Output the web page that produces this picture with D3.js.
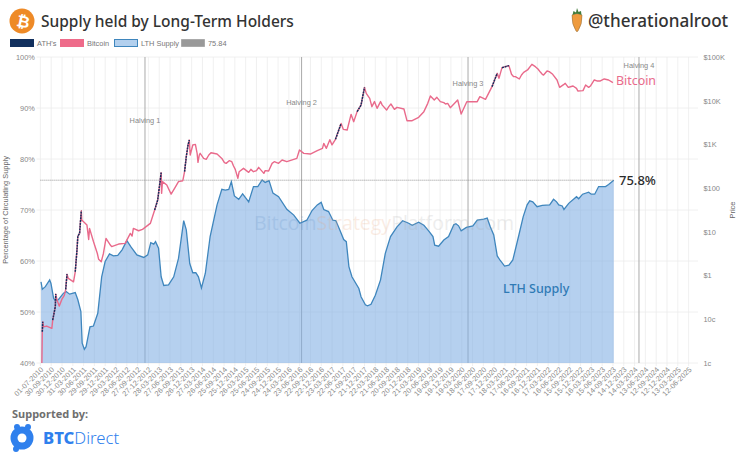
<!DOCTYPE html>
<html lang="en">

<head>
  <meta charset="UTF-8">
  <title>Supply held by Long-Term Holders</title>
  <script src="https://d3js.org/d3.v7.min.js"></script>
  <style>
    * {
      padding: 0;
      margin: 0;
      box-sizing: border-box;
    }

    body {
      background: #fff;
      overflow: hidden;
    }

    svg {
      display: block;
    }

    .axis text {
      font-family: "Liberation Sans", sans-serif;
      font-size: 7.4px;
      fill: #888;
    }

    .axis path,
    .axis line {
      stroke: none;
    }
  </style>
</head>

<body>
  <div id="container"></div>
  <script>
    // dates are decimal years
    const lthYears = [2010.51, 2010.54, 2010.61, 2010.71, 2010.74, 2010.80, 2010.84, 2010.91, 2011.03, 2011.09, 2011.17, 2011.30, 2011.36, 2011.43, 2011.46, 2011.51, 2011.55, 2011.64, 2011.72, 2011.82, 2011.91, 2011.99, 2012.09, 2012.18, 2012.28, 2012.38, 2012.49, 2012.58, 2012.72, 2012.88, 2012.97, 2013.04, 2013.11, 2013.15, 2013.22, 2013.28, 2013.34, 2013.45, 2013.57, 2013.68, 2013.80, 2013.86, 2013.94, 2014.01, 2014.08, 2014.14, 2014.21, 2014.30, 2014.41, 2014.57, 2014.68, 2014.76, 2014.84, 2014.90, 2014.97, 2015.07, 2015.16, 2015.30, 2015.41, 2015.51, 2015.61, 2015.68, 2015.77, 2015.86, 2015.99, 2016.18, 2016.34, 2016.48, 2016.64, 2016.76, 2016.88, 2016.97, 2017.03, 2017.14, 2017.24, 2017.31, 2017.41, 2017.49, 2017.55, 2017.61, 2017.68, 2017.84, 2017.89, 2017.99, 2018.04, 2018.12, 2018.22, 2018.34, 2018.45, 2018.57, 2018.72, 2018.85, 2018.99, 2019.07, 2019.22, 2019.34, 2019.45, 2019.55, 2019.59, 2019.68, 2019.80, 2019.91, 2020.03, 2020.08, 2020.14, 2020.20, 2020.32, 2020.47, 2020.57, 2020.72, 2020.80, 2020.87, 2020.95, 2021.03, 2021.10, 2021.20, 2021.30, 2021.39, 2021.53, 2021.63, 2021.72, 2021.78, 2021.85, 2021.95, 2022.07, 2022.24, 2022.33, 2022.40, 2022.45, 2022.53, 2022.57, 2022.68, 2022.86, 2022.91, 2023.00, 2023.14, 2023.20, 2023.28, 2023.37, 2023.53, 2023.60, 2023.72]
    const lthPercent = [55.9, 54.45, 54.97, 56.28, 55.6, 52.7, 52.2, 52.4, 53.7, 54.0, 53.5, 53.8, 52.4, 50.1, 43.9, 42.7, 43.2, 47.1, 47.25, 49.75, 56.9, 59.9, 61.4, 61.0, 61.1, 62.2, 64.0, 62.8, 61.2, 60.7, 61.2, 63.6, 63.3, 63.8, 62.5, 56.9, 55.2, 55.3, 56.9, 60.5, 67.9, 66.1, 59.5, 57.7, 57.7, 56.9, 54.7, 57.6, 64.8, 71.0, 74.05, 73.9, 74.05, 75.56, 72.75, 72.1, 73.15, 71.6, 74.6, 74.6, 75.9, 75.4, 75.75, 73.3, 72.6, 70.15, 69.0, 67.4, 68.0, 69.9, 71.0, 71.5, 70.1, 69.7, 68.0, 67.9, 65.9, 64.2, 63.8, 58.9, 56.9, 54.6, 53.0, 51.4, 51.2, 51.5, 53.3, 56.3, 61.5, 64.8, 66.7, 67.9, 67.4, 67.0, 67.6, 67.0, 65.9, 64.8, 63.1, 62.9, 64.1, 64.8, 67.1, 67.3, 66.9, 65.9, 66.6, 66.9, 68.0, 68.2, 68.4, 66.7, 65.1, 61.0, 60.1, 59.0, 59.2, 60.2, 65.1, 68.7, 71.0, 71.8, 71.6, 70.65, 70.9, 71.0, 72.1, 71.6, 71.0, 70.8, 70.1, 71.3, 72.6, 72.2, 73.1, 73.5, 73.1, 73.1, 74.6, 74.6, 75.0, 75.84]

    const priceYears = [
      2010.53, 2010.54, 2010.55, 2010.57, 2010.64, 2010.76, 2010.78, 2010.81, 2010.84, 2010.85, 2010.88, 2010.93, 2010.99,
      2011.05, 2011.08, 2011.11, 2011.14, 2011.26, 2011.30, 2011.34, 2011.36, 2011.40, 2011.44, 2011.45, 2011.57, 2011.61, 2011.63, 2011.72, 2011.81, 2011.84, 2011.90, 2011.95,
      2012.01, 2012.11, 2012.14, 2012.30, 2012.45, 2012.57, 2012.61, 2012.64, 2012.76, 2012.85,
      2013.03, 2013.13, 2013.20, 2013.22, 2013.28, 2013.29, 2013.31, 2013.41, 2013.51, 2013.61, 2013.68, 2013.78, 2013.82, 2013.86, 2013.90, 2013.93, 2013.95,
      2014.01, 2014.07, 2014.11, 2014.13, 2014.16, 2014.18, 2014.26, 2014.32, 2014.38, 2014.43, 2014.57, 2014.68, 2014.74, 2014.78, 2014.85, 2014.91, 2014.95, 2014.99,
      2015.05, 2015.08, 2015.18, 2015.30, 2015.35, 2015.41, 2015.48, 2015.53, 2015.65, 2015.68, 2015.76, 2015.84, 2015.89, 2015.99,
      2016.07, 2016.18, 2016.41, 2016.47, 2016.57, 2016.72, 2016.88,
      2017.00, 2017.03, 2017.09, 2017.17, 2017.22, 2017.30, 2017.43, 2017.48, 2017.57, 2017.66, 2017.72, 2017.80, 2017.89, 2017.97,
      2018.01, 2018.09, 2018.14, 2018.20, 2018.26, 2018.34, 2018.38, 2018.48, 2018.53, 2018.58, 2018.66, 2018.72, 2018.88, 2018.95,
      2019.07, 2019.22, 2019.34, 2019.43, 2019.49, 2019.58, 2019.64, 2019.72, 2019.80, 2019.84, 2019.89, 2019.95,
      2020.12, 2020.20, 2020.33, 2020.57, 2020.63, 2020.76, 2020.91, 2020.99,
      2021.03, 2021.07, 2021.14, 2021.22, 2021.30, 2021.36, 2021.41, 2021.45, 2021.54, 2021.59, 2021.64, 2021.73, 2021.83, 2021.91, 2021.97,
      2022.03, 2022.07, 2022.10, 2022.18, 2022.23, 2022.31, 2022.41, 2022.47, 2022.57, 2022.60, 2022.67, 2022.72, 2022.78, 2022.86, 2022.89,
      2023.01, 2023.07, 2023.14, 2023.18, 2023.27, 2023.33, 2023.41, 2023.50, 2023.60, 2023.70
    ]
    const priceUsd = [
      0.01, 0.052, 0.088, 0.067, 0.07, 0.062, 0.096, 0.136, 0.194, 0.378, 0.275, 0.20, 0.285,
      0.358, 0.483, 1.08, 0.86, 0.72, 1.22, 3.84, 8.0, 9.2, 30.5, 18.6, 14.3, 6.7, 12, 6, 3.2, 2.35, 2.07, 3.2,
      7.1, 5.0, 4.6, 5.26, 5.45, 9.2, 8.0, 12, 10.6, 11.4,
      15.6, 31.5, 53.5, 76, 226, 76, 141, 118, 73, 107, 141, 148, 238, 525, 970, 1259, 573,
      970, 1000, 625, 389, 573, 625, 479, 457, 573, 647, 603, 479, 382, 369, 425, 403, 321, 269,
      168, 238, 284, 230, 269, 238, 251, 299, 218, 251, 247, 369, 403, 369,
      440, 403, 479, 745, 625, 603, 719,
      813, 1059, 813, 1280, 977, 1306, 3020, 2213, 2138, 4875, 3311, 5623, 7943, 20230,
      14750, 11320, 7310, 9550, 6700, 9550, 7940, 6120, 7310, 8410, 6350, 7060, 6460, 3490,
      3490, 4170, 5620, 8710, 12820, 10370, 11940, 9550, 9020, 8410, 8710, 6930,
      10370, 4970, 9500, 9500, 12390, 10720, 21000, 33650,
      42360, 32500, 57000, 60100, 63400, 40200, 35500, 35500, 31400, 38700, 44600, 50500, 67900, 60100, 53200,
      44600, 40200, 38700, 47900, 46200, 40200, 29800, 20200, 23700, 25000, 20200, 20900, 21700, 19200, 16700,
      17000, 22900, 20200, 21700, 29800, 28300, 28300, 31400, 29800, 25900
    ]

    const tickDates = ["2010-07-01", "2010-09-30", "2010-12-30", "2011-03-31", "2011-06-30", "2011-09-29", "2011-12-29", "2012-03-29", "2012-06-28", "2012-09-27", "2012-12-27", "2013-03-28", "2013-06-27", "2013-09-26", "2013-12-26", "2014-03-27", "2014-06-26", "2014-09-25", "2014-12-25", "2015-03-26", "2015-06-25", "2015-09-24", "2015-12-24", "2016-03-24", "2016-06-23", "2016-09-22", "2016-12-22", "2017-03-23", "2017-06-22", "2017-09-21", "2017-12-21", "2018-03-22", "2018-06-21", "2018-09-20", "2018-12-20", "2019-03-21", "2019-06-20", "2019-09-19", "2019-12-19", "2020-03-19", "2020-06-18", "2020-09-17", "2020-12-17", "2021-03-18", "2021-06-17", "2021-09-16", "2021-12-16", "2022-03-17", "2022-06-16", "2022-09-15", "2022-12-15", "2023-03-16", "2023-06-15", "2023-09-14", "2023-12-14", "2024-03-14", "2024-06-13", "2024-09-12", "2024-12-12", "2025-03-13", "2025-06-12"]
    const percentTicks = [40, 50, 60, 70, 80, 90, 100]
    const priceTicks = [0.01, 0.1, 1, 10, 100, 1000, 10000, 100000]
    const priceTickLabels = ["1c", "10c", "$1", "$10", "$100", "$1K", "$10K", "$100K"]

    const halvingDates = ["2012-11-28", "2016-07-09", "2020-05-11", "2024-04-20"]
    const halvingNames = ["Halving 1", "Halving 2", "Halving 3", "Halving 4"]
    const halvingLabelPct = [87.1, 90.6, 94.4, 97.8]
    const currentLth = 75.84

    const legendNames = ["ATH's", "Bitcoin", "LTH Supply", "75.84"]
    const legendFill = ["#12305e", "#ee6b8a", "#b3d0ee", "#999"]
    const legendStroke = ["#12305e", "#ee6b8a", "#3f86bd", "#888"]
    const legendX = [10, 60, 114, 181]

    const width = 740, height = 462
    const plot = { left: 40.4, right: 698, top: 57, bottom: 363, lastTick: 688.6 }

    const parse = d3.utcParse("%Y-%m-%d")
    const fromYear = y => {
      const whole = Math.floor(y)
      const start = Date.UTC(whole, 0, 1)
      return new Date(start + (y - whole) * (Date.UTC(whole + 1, 0, 1) - start))
    }

    const x = d3.scaleUtc()
      .domain([parse(tickDates[0]), parse(tickDates[tickDates.length - 1])])
      .range([plot.left, plot.lastTick])
    const yPct = d3.scaleLinear().domain([40, 100]).range([plot.bottom, plot.top])
    const yPrice = d3.scaleLog().domain([0.01, 100000]).range([plot.bottom, plot.top])

    const svg = d3.select("#container").append("svg")
      .attr("width", width)
      .attr("height", height)
      .attr("viewBox", [0, 0, width, height])

    // grid
    const grid = svg.append("g").attr("stroke", "#ececec").attr("stroke-width", 0.8)
    grid.selectAll(".v").data(tickDates).join("line").attr("class", "v")
      .attr("x1", d => x(parse(d))).attr("x2", d => x(parse(d)))
      .attr("y1", plot.top).attr("y2", plot.bottom + 3)
    grid.selectAll(".h").data(percentTicks).join("line").attr("class", "h")
      .attr("x1", plot.left - 4).attr("x2", plot.right)
      .attr("y1", d => yPct(d)).attr("y2", d => yPct(d))

    // halvings
    svg.append("g").selectAll("line").data(halvingDates).join("line")
      .attr("x1", d => x(parse(d))).attr("x2", d => x(parse(d)))
      .attr("y1", plot.top).attr("y2", plot.bottom)
      .attr("stroke", "#aaa").attr("stroke-width", 1)

    // LTH area
    const lth = lthYears.map((y, i) => [fromYear(y), lthPercent[i]])
    svg.append("path").datum(lth)
      .attr("fill", "rgba(125,173,226,0.57)")
      .attr("d", d3.area().x(d => x(d[0])).y0(plot.bottom).y1(d => yPct(d[1])))
    svg.append("path").datum(lth)
      .attr("fill", "none").attr("stroke", "#3f86bd").attr("stroke-width", 1.3)
      .attr("d", d3.line().x(d => x(d[0])).y(d => yPct(d[1])))

    // current level
    svg.append("line")
      .attr("x1", plot.left).attr("x2", x(fromYear(2023.72)))
      .attr("y1", yPct(currentLth)).attr("y2", yPct(currentLth))
      .attr("stroke", "#888").attr("stroke-width", 0.9).attr("stroke-dasharray", "1 1")

    // price, ATH's are the points above every earlier price
    let runningMax = 0
    const price = priceYears.map((y, i) => {
      const ath = priceUsd[i] > runningMax
      if (ath) runningMax = priceUsd[i]
      return { date: fromYear(y), usd: priceUsd[i], ath }
    })
    const priceLine = d3.line().x(d => x(d.date)).y(d => yPrice(d.usd))
    svg.append("path").datum(price)
      .attr("fill", "none").attr("stroke", "#e96a8b").attr("stroke-width", 1.4)
      .attr("stroke-linejoin", "round")
      .attr("d", priceLine)
    svg.append("path").datum(price.slice(1))
      .attr("fill", "none").attr("stroke", "#12305e").attr("stroke-width", 1.5)
      .attr("stroke-dasharray", "2 0.8")
      .attr("d", priceLine.defined(d => d.ath))

    // axes
    svg.append("g").attr("class", "axis")
      .attr("transform", `translate(${plot.left},0)`)
      .call(d3.axisLeft(yPct).tickValues(percentTicks).tickFormat(d => d + "%").tickSize(0).tickPadding(5.5))

    svg.append("g").attr("class", "axis")
      .attr("transform", `translate(${plot.right},0)`)
      .call(d3.axisRight(yPrice).tickValues(priceTicks)
        .tickFormat((d, i) => priceTickLabels[i]).tickSize(0).tickPadding(5.5))

    svg.append("g").attr("class", "axis")
      .attr("transform", `translate(0,${plot.bottom})`)
      .call(d3.axisBottom(x).tickValues(tickDates.map(parse))
        .tickFormat(d3.utcFormat("%d-%m-%Y")).tickSize(0).tickPadding(0))
      .selectAll("text")
      .attr("text-anchor", "end")
      .attr("dy", 0)
      .attr("transform", "translate(3,7) rotate(-45)")

    const axisTitle = (label, tx) => svg.append("text")
      .attr("transform", `translate(${tx},210) rotate(-90)`)
      .attr("text-anchor", "middle")
      .attr("font-family", "Liberation Sans, sans-serif")
      .attr("font-size", 7.4).attr("fill", "#666")
      .text(label)
    axisTitle("Percentage of Circulating Supply", 8)
    axisTitle("Price", 735)

    // halving labels
    svg.append("g").selectAll("text").data(halvingNames).join("text")
      .attr("x", (d, i) => x(parse(halvingDates[i])))
      .attr("y", (d, i) => yPct(halvingLabelPct[i]))
      .attr("text-anchor", "middle")
      .attr("font-family", "Liberation Sans, sans-serif")
      .attr("font-size", 7.4).attr("fill", "#888")
      .text(d => d)

    // watermark
    const mark = svg.append("text").attr("x", 254).attr("y", 230)
      .attr("font-family", "Open Sans, sans-serif").attr("font-size", 19.5).attr("opacity", 0.2)
    mark.append("tspan").attr("fill", "#5f8fc4").text("Bitcoin")
    mark.append("tspan").attr("fill", "#e9a27a").text("Strategy")
    mark.append("tspan").attr("fill", "#aaa").text("Platform.com")

    // direct labels
    const label = (txt, lx, ly, size, fill, weight) => svg.append("text")
      .attr("x", lx).attr("y", ly)
      .attr("font-family", "Noto Sans, sans-serif")
      .attr("font-size", size).attr("font-weight", weight).attr("fill", fill)
      .text(txt)
    label("75.8%", 619, 185, 13, "#2b2b2b", 500)
    label("Bitcoin", 616, 85, 12.4, "#e96a8b", 400)
    label("LTH Supply", 503, 293, 12.5, "#2f7ab5", 500)

    // legend
    const legend = svg.append("g")
    legendNames.forEach((name, i) => {
      legend.append("rect")
        .attr("x", legendX[i] + 0.5).attr("y", 39.5).attr("width", 23).attr("height", 7)
        .attr("fill", legendFill[i]).attr("stroke", legendStroke[i])
        .attr("stroke-dasharray", i === 3 ? "1 1" : null)
      legend.append("text")
        .attr("x", legendX[i] + 27).attr("y", 46)
        .attr("font-family", "Liberation Sans, sans-serif")
        .attr("font-size", 7.4).attr("fill", "#777")
        .text(name)
    })

    // header
    svg.append("circle").attr("cx", 22).attr("cy", 21).attr("r", 12.5).attr("fill", "#ee8a27")
    svg.append("text")
      .attr("transform", "translate(22,27) rotate(12)")
      .attr("text-anchor", "middle")
      .attr("font-family", "DejaVu Sans, sans-serif").attr("font-weight", "bold")
      .attr("font-size", 16).attr("fill", "#fff")
      .text("₿")
    label("Supply held by Long-Term Holders", 41, 27, 15.5, "#333", 500)
    label("@therationalroot", 588, 27, 17.1, "#333", 500)

    // carrot
    const carrot = svg.append("g").attr("transform", "translate(577,21)")
    carrot.append("path").attr("d", "M-5,-6 Q0,-9 5,-6 Q5.5,3 1,10 Q0,11.5 -1,10 Q-5.5,3 -5,-6Z")
      .attr("fill", "#ee9b3e").attr("stroke", "#8a6a3a").attr("stroke-width", 0.5)
    carrot.append("path").attr("d", "M-4.5,-6 L-3.5,-10 L-1,-8.5 L0,-13 L1.5,-9 L4,-10 L4.5,-6 Q0,-8.5 -4.5,-6Z")
      .attr("fill", "#3f7a3a")

    // footer
    label("Supported by:", 12, 418, 11, "#6f6f6f", 700)
    const logo = svg.append("g").attr("transform", "translate(22,438)")
    logo.append("circle").attr("r", 11.5).attr("fill", "#2f80ed")
    logo.append("circle").attr("cx", -5).attr("cy", -11).attr("r", 3).attr("fill", "#2f80ed")
    logo.append("circle").attr("cx", 6).attr("cy", -11).attr("r", 3).attr("fill", "#2f80ed")
    logo.append("circle").attr("cx", -6).attr("cy", 11).attr("r", 3).attr("fill", "#2f80ed")
    logo.append("circle").attr("r", 4.5).attr("fill", "#fff")
    const brand = svg.append("text").attr("x", 43).attr("y", 444)
      .attr("font-family", "Noto Sans, sans-serif").attr("font-size", 16.7).attr("fill", "#2f80ed")
    brand.append("tspan").attr("font-weight", 800).text("BTC")
    brand.append("tspan").attr("font-weight", 300).text("Direct")
  </script>
</body>

</html>
